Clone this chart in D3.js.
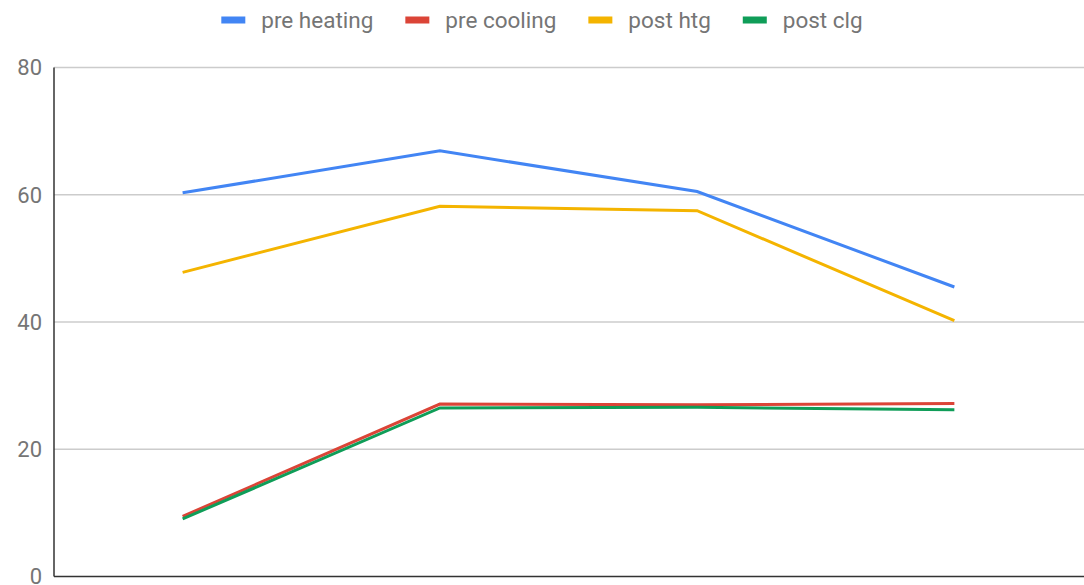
<!DOCTYPE html>
<html>
<head>
<meta charset="utf-8">
<script src="https://cdn.jsdelivr.net/npm/d3@7"></script>
<style>
  body { margin: 0; background: #fff; }
  svg { display: block; font-family: Roboto, "Noto Sans", sans-serif; }
</style>
</head>
<body>
<script>
//Data.
var categories = ["1", "2", "3", "4"];
var seriesNames = ["pre heating", "pre cooling", "post htg", "post clg"];
var preHeating = [60.3, 66.9, 60.5, 45.5];
var preCooling = [9.45, 27.1, 27.0, 27.2];
var postHtg = [47.8, 58.2, 57.5, 40.2];
var postClg = [9.05, 26.5, 26.6, 26.2];
var yTicks = [0, 20, 40, 60, 80];

//Colors per series.
var colors = ["#4285F4", "#DB4437", "#F4B400", "#0F9D58"];
var series = [preHeating, preCooling, postHtg, postClg];

//Size of the page and plot edges.
var width = 1084;
var height = 585;
var plotLeft = 54, plotRight = 1083, plotTop = 67.5, plotBottom = 576.5;

var svg = d3.select("body").append("svg")
  .attr("width", width)
  .attr("height", height);

//Scales.
var x = d3.scalePoint().domain(categories).range([plotLeft, plotRight]).padding(0.5);
var y = d3.scaleLinear().domain([0, 80]).range([plotBottom, plotTop]);

//Gridlines.
svg.append("g").selectAll("line")
  .data(yTicks.filter(function (d) { return d > 0; }))
  .enter().append("line")
  .attr("x1", plotLeft).attr("x2", plotRight + 1)
  .attr("y1", function (d) { return y(d); })
  .attr("y2", function (d) { return y(d); })
  .attr("stroke", "#cccccc")
  .attr("stroke-width", 1.3);

//Y tick labels.
svg.append("g").selectAll("text")
  .data(yTicks)
  .enter().append("text")
  .attr("x", 42)
  .attr("y", function (d) { return y(d); })
  .attr("dy", "0.36em")
  .attr("text-anchor", "end")
  .attr("fill", "#757575")
  .style("font-size", "22px")
  .text(function (d) { return d; });

//Axis lines.
svg.append("line")
  .attr("x1", plotLeft).attr("x2", plotLeft)
  .attr("y1", plotTop).attr("y2", plotBottom)
  .attr("stroke", "#333").attr("stroke-width", 1.5);
svg.append("line")
  .attr("x1", plotLeft).attr("x2", plotRight + 1)
  .attr("y1", plotBottom).attr("y2", plotBottom)
  .attr("stroke", "#333").attr("stroke-width", 1.5);

//Lines.
var line = d3.line()
  .x(function (d, i) { return x(categories[i]); })
  .y(function (d) { return y(d); });

series.forEach(function (s, i) {
  svg.append("path")
    .datum(s)
    .attr("d", line)
    .attr("fill", "none")
    .attr("stroke", colors[i])
    .attr("stroke-width", 3);
});

//Legend, centered on top.
var legend = svg.append("g");
var pos = 0;
seriesNames.forEach(function (name, i) {
  var g = legend.append("g").attr("transform", "translate(" + pos + ",0)");
  g.append("rect")
    .attr("x", 0).attr("y", 16.5)
    .attr("width", 24).attr("height", 7)
    .attr("fill", colors[i]);
  var t = g.append("text")
    .attr("x", 40).attr("y", 28)
    .attr("fill", "#757575")
    .style("font-size", "22.5px")
    .text(name);
  pos += 40 + t.node().getComputedTextLength() + 32;
});
var legendWidth = pos - 32;
legend.attr("transform", "translate(" + ((width - legendWidth) / 2) + ",0)");
</script>
</body>
</html>
